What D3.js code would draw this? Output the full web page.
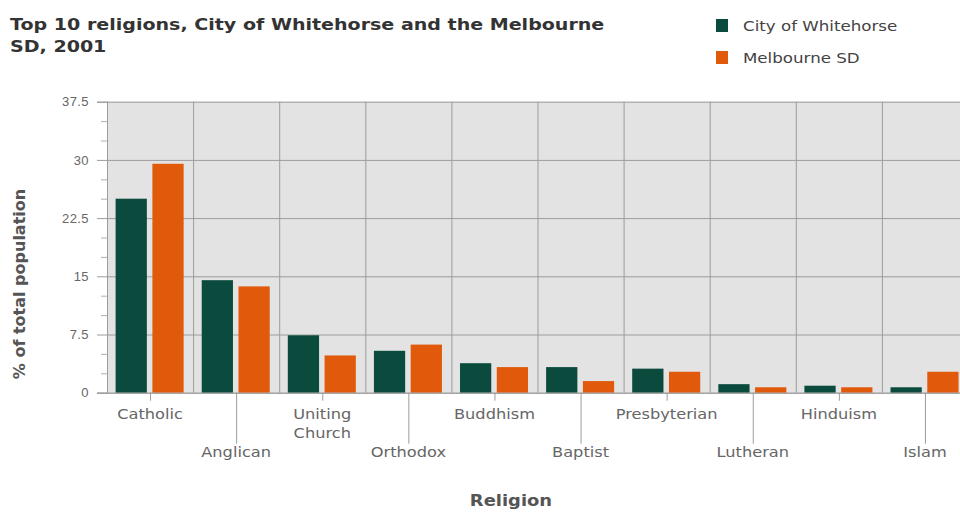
<!DOCTYPE html>
<html>
<head>
<meta charset="utf-8">
<script src="https://cdn.jsdelivr.net/npm/d3@7/dist/d3.min.js"></script>
<style>
  html, body { margin: 0; padding: 0; background: #fff; }
  svg { display: block; font-family: "DejaVu Sans", Verdana, sans-serif; }
</style>
</head>
<body>
<svg id="chart" width="960" height="512"></svg>
<script>
// Religions (x-axis categories); "\n" splits a label over two lines
const religions = ["Catholic", "Anglican", "Uniting\nChurch", "Orthodox", "Buddhism",
                   "Baptist", "Presbyterian", "Lutheran", "Hinduism", "Islam"];
// Share of total population (%), 2001
const whitehorse  = [25.0, 14.5, 7.4, 5.4, 3.8, 3.3, 3.1, 1.1, 0.9, 0.7];
const melbourneSD = [29.5, 13.7, 4.8, 6.2, 3.3, 1.5, 2.7, 0.7, 0.7, 2.7];
const seriesNames = ["City of Whitehorse", "Melbourne SD"];
const yTicks = [0, 7.5, 15, 22.5, 30, 37.5];
const yTickLabels = ["0", "7.5", "15", "22.5", "30", "37.5"];

const colors = ["#0a4b3e", "#e15a0c"];
const svg = d3.select("#chart");

// widen glyphs horizontally (the typeface is set slightly extended)
function widen(sel, factor) {
  sel.each(function () {
    const w = this.getComputedTextLength();
    d3.select(this).attr("textLength", w * factor).attr("lengthAdjust", "spacingAndGlyphs");
  });
}

const plot = { left: 107, top: 101.7, bottom: 392.7, right: 968 };

const x0 = d3.scaleBand().domain(religions).range([plot.left, plot.right]).padding(0);
const x1 = d3.scaleBand().domain(seriesNames)
  .range([x0.bandwidth() * 0.1, x0.bandwidth() * 0.89]).paddingInner(0.15);
const y = d3.scaleLinear().domain([0, 37.5]).range([plot.bottom, plot.top]);

// plot background
svg.append("rect")
  .attr("x", plot.left).attr("y", plot.top)
  .attr("width", plot.right - plot.left).attr("height", plot.bottom - plot.top)
  .attr("fill", "#e3e3e3");

// vertical separators between categories
svg.append("g").selectAll("line")
  .data(religions)
  .join("line")
  .attr("x1", d => x0(d) + 0.5).attr("x2", d => x0(d) + 0.5)
  .attr("y1", plot.top).attr("y2", plot.bottom)
  .attr("stroke", "#9c9c9c").attr("stroke-width", 1);

// y axis with long grid ticks
const yAxis = d3.axisLeft(y)
  .tickValues(yTicks)
  .tickFormat((d, i) => yTickLabels[i])
  .tickSize(10)
  .tickPadding(8);
const yG = svg.append("g").attr("transform", `translate(${plot.left},0)`).call(yAxis);
yG.select(".domain").attr("stroke", "#9c9c9c");
yG.selectAll(".tick line").attr("stroke", "#9c9c9c")
  .attr("x2", plot.right - plot.left).attr("x1", -10);
yG.selectAll(".tick text")
  .attr("fill", "#666").attr("font-size", 13).attr("letter-spacing", 0.4);

// minor ticks every 2.5
const minor = d3.range(0, 37.51, 2.5).filter(v => !yTicks.some(t => Math.abs(t - v) < 1e-6));
svg.append("g").selectAll("line")
  .data(minor)
  .join("line")
  .attr("x1", plot.left - 6).attr("x2", plot.left)
  .attr("y1", d => y(d) + 0.5).attr("y2", d => y(d) + 0.5)
  .attr("stroke", "#b0b0b0");

// bars
const groups = svg.append("g").selectAll("g")
  .data(religions.map((r, i) => ({ r, vals: [whitehorse[i], melbourneSD[i]] })))
  .join("g")
  .attr("transform", d => `translate(${x0(d.r)},0)`);
groups.selectAll("rect")
  .data(d => d.vals.map((v, j) => ({ v, s: seriesNames[j], j })))
  .join("rect")
  .attr("x", d => x1(d.s))
  .attr("width", x1.bandwidth())
  .attr("y", d => y(d.v))
  .attr("height", d => y(0) - y(d.v))
  .attr("fill", d => colors[d.j]);

// bottom axis line
svg.append("line")
  .attr("x1", plot.left - 10).attr("x2", plot.right)
  .attr("y1", plot.bottom + 0.5).attr("y2", plot.bottom + 0.5)
  .attr("stroke", "#9c9c9c");

// x axis: staggered labels, lower ones on long ticks
const xG = svg.append("g").selectAll("g")
  .data(religions)
  .join("g")
  .attr("transform", (d, i) => `translate(${x0(d) + x0.bandwidth() / 2},${plot.bottom})`);
xG.append("line")
  .attr("x1", 0.5).attr("x2", 0.5).attr("y1", 0)
  .attr("y2", (d, i) => i % 2 === 0 ? 8 : 51)
  .attr("stroke", "#9c9c9c");
xG.append("text")
  .attr("text-anchor", "middle")
  .attr("fill", "#666").attr("font-size", 13.5)
  .each(function (d, i) {
    const lines = d.split("\n");
    const base = i % 2 === 0 ? 26 : 64;
    d3.select(this).selectAll("tspan")
      .data(lines)
      .join("tspan")
      .attr("x", 0)
      .attr("y", (l, k) => base + k * 19)
      .text(l => l);
  });
widen(xG.selectAll("tspan"), 1.2);

// axis titles
svg.append("text")
  .attr("transform", "translate(25,284) rotate(-90)")
  .attr("text-anchor", "middle")
  .attr("fill", "#555").attr("font-size", 16).attr("font-weight", "bold")
  .text("% of total population");
const xTitle = svg.append("text")
  .attr("x", 511).attr("y", 506)
  .attr("text-anchor", "middle")
  .attr("fill", "#555").attr("font-size", 16).attr("font-weight", "bold")
  .text("Religion");
widen(xTitle, 1.12);

// title
const title = svg.append("text")
  .attr("fill", "#333").attr("font-size", 16).attr("font-weight", "bold");
title.append("tspan").attr("x", 10).attr("y", 30)
  .text("Top 10 religions, City of Whitehorse and the Melbourne");
title.append("tspan").attr("x", 10).attr("y", 52).text("SD, 2001");
widen(title.selectAll("tspan"), 1.19);

// legend
const legend = svg.append("g").selectAll("g")
  .data(seriesNames)
  .join("g")
  .attr("transform", (d, i) => `translate(716,${19 + i * 32})`);
legend.append("rect")
  .attr("width", 12).attr("height", 13)
  .attr("fill", (d, i) => colors[i]);
const legendText = legend.append("text")
  .attr("x", 27).attr("y", 11.5)
  .attr("fill", "#444").attr("font-size", 14)
  .text(d => d);
widen(legendText, 1.19);
</script>
</body>
</html>
